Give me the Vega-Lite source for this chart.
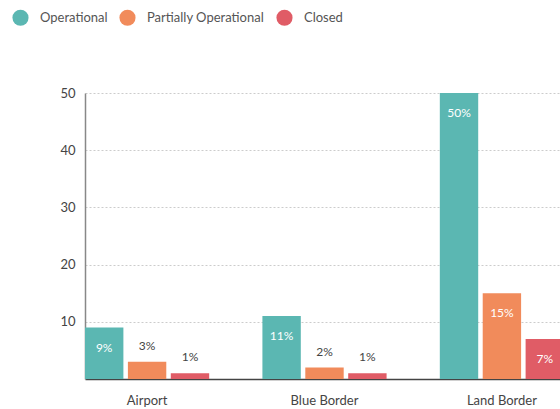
{
  "$schema": "https://vega.github.io/schema/vega-lite/v6.json",
  "autosize": {"type": "none"},
  "width": 479,
  "height": 286,
  "padding": {"left": 85, "top": 93, "right": 0, "bottom": 30},
  "background": "white",
  "config": {
    "font": "Lato",
    "view": {"stroke": null}
  },
  "data": {
    "values": [
      {"category": "Airport", "status": "Operational", "value": 9, "label": "9%"},
      {"category": "Airport", "status": "Partially Operational", "value": 3, "label": "3%"},
      {"category": "Airport", "status": "Closed", "value": 1, "label": "1%"},
      {"category": "Blue Border", "status": "Operational", "value": 11, "label": "11%"},
      {"category": "Blue Border", "status": "Partially Operational", "value": 2, "label": "2%"},
      {"category": "Blue Border", "status": "Closed", "value": 1, "label": "1%"},
      {"category": "Land Border", "status": "Operational", "value": 50, "label": "50%"},
      {"category": "Land Border", "status": "Partially Operational", "value": 15, "label": "15%"},
      {"category": "Land Border", "status": "Closed", "value": 7, "label": "7%"}
    ]
  },
  "encoding": {
    "x": {
      "field": "category", "type": "nominal", "sort": ["Airport", "Blue Border", "Land Border"],
      "scale": {"paddingInner": 0.3, "paddingOuter": 0},
      "axis": {"title": null, "labelAngle": 0, "ticks": false, "tickSize": 0, "labelPadding": 15, "labelFontSize": 13, "labelColor": "#444", "domainColor": "#444", "domainWidth": 1.5, "grid": false}
    },
    "xOffset": {
      "field": "status", "type": "nominal", "sort": ["Operational", "Partially Operational", "Closed"],
      "scale": {"paddingInner": 0.105, "paddingOuter": 0}
    },
    "y": {
      "field": "value", "type": "quantitative",
      "scale": {"domain": [0, 50], "nice": false},
      "axis": {"title": null, "values": [10, 20, 30, 40, 50], "ticks": false, "tickSize": 0, "labelPadding": 10, "labelFontSize": 13, "labelColor": "#444", "domainColor": "#888", "domainWidth": 1.5, "gridColor": "#cccccc", "gridDash": [2, 2], "gridWidth": 1}
    }
  },
  "layer": [
    {
      "mark": {"type": "bar"},
      "encoding": {
        "color": {
          "field": "status", "type": "nominal",
          "scale": {"domain": ["Operational", "Partially Operational", "Closed"], "range": ["#5bb7b2", "#f18b5b", "#e05c66"]},
          "legend": {
            "title": null, "orient": "none", "direction": "horizontal",
            "legendX": -73, "legendY": -84,
            "symbolType": "circle", "symbolSize": 260, "symbolStrokeWidth": 0, "symbolOpacity": 1,
            "labelFontSize": 13, "labelColor": "#555", "labelOffset": 11, "columnPadding": 11,
            "encode": {"symbols": {"update": {"size": {"value": 260}, "opacity": {"value": 1}}}}
          }
        }
      }
    },
    {
      "transform": [{"filter": "datum.value >= 5"}],
      "mark": {"type": "text", "baseline": "middle", "dy": 20, "color": "white", "fontSize": 12},
      "encoding": {"text": {"field": "label"}}
    },
    {
      "transform": [{"filter": "datum.value < 5"}],
      "mark": {"type": "text", "baseline": "middle", "dy": -16, "color": "#444", "fontSize": 12},
      "encoding": {"text": {"field": "label"}}
    }
  ]
}
